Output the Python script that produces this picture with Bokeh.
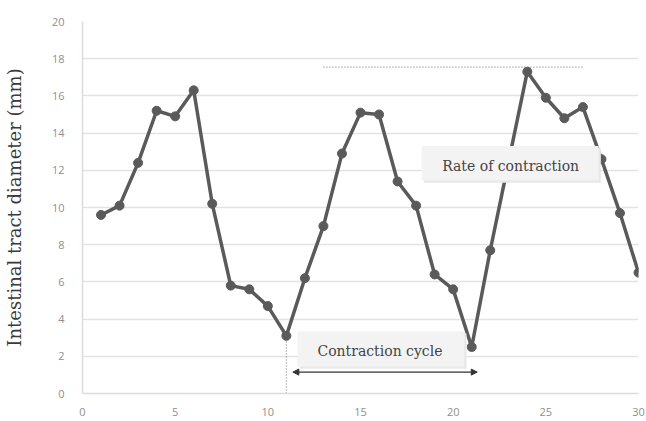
from bokeh.plotting import figure
from bokeh.models import (Label, BoxAnnotation, Arrow, NormalHead, FixedTicker,
                          ColumnDataSource)
from bokeh.embed import file_html
from bokeh.resources import INLINE

# ---- data ----
day = list(range(1, 31))
diameter = [9.6, 10.1, 12.4, 15.2, 14.9, 16.3, 10.2, 5.8, 5.6, 4.7,
            3.1, 6.2, 9.0, 12.9, 15.1, 15.0, 11.4, 10.1, 6.4, 5.6,
            2.5, 7.7, 12.5, 17.3, 15.9, 14.8, 15.4, 12.6, 9.7, 6.5]
x_ticks = [0, 5, 10, 15, 20, 25, 30]
y_ticks = [0, 2, 4, 6, 8, 10, 12, 14, 16, 18, 20]
y_label = "Intestinal tract diameter (mm)"
cycle_label = "Contraction cycle"
rate_label = "Rate of contraction"
cycle_start, cycle_end = 11, 21
peak_level = 17.55

LINE = "#5a5a5a"
SERIF = "DejaVu Serif"

p = figure(width=646, height=421, x_range=(0, 30), y_range=(0, 20),
           output_backend="svg", toolbar_location=None,
           min_border_left=82, min_border_right=8, min_border_top=21,
           min_border_bottom=28)
p.outline_line_color = None
p.background_fill_color = "white"

p.xgrid.grid_line_color = None
p.ygrid.grid_line_color = "#e3e3e3"
p.ygrid.grid_line_width = 1.5
p.xaxis.ticker = FixedTicker(ticks=x_ticks)
p.yaxis.ticker = FixedTicker(ticks=y_ticks)
for ax in (p.xaxis[0], p.yaxis[0]):
    ax.axis_line_color = "#dcdcdc"
    ax.axis_line_width = 1.5
    ax.major_tick_line_color = None
    ax.minor_tick_line_color = None
    ax.major_label_text_color = "#8f8f8f"
    ax.major_label_text_font = "Open Sans"
    ax.major_label_text_font_size = "11px"
p.xaxis.major_label_standoff = 8
p.yaxis.major_label_standoff = 12
p.yaxis.axis_label = y_label
p.yaxis.axis_label_text_font = SERIF
p.yaxis.axis_label_text_font_style = "normal"
p.yaxis.axis_label_text_font_size = "18px"
p.yaxis.axis_label_text_color = "#3a3a3a"
p.yaxis.axis_label_standoff = 24

# dotted guide lines
guides = ColumnDataSource(dict(x0=[cycle_start, 13], y0=[0, peak_level],
                               x1=[cycle_start, 27], y1=[diameter[cycle_start - 1], peak_level]))
p.segment(x0="x0", y0="y0", x1="x1", y1="y1", source=guides,
          line_color="#8a8a8a", line_width=1.2, line_dash="1 2")

# series
src = ColumnDataSource(dict(day=day, diameter=diameter))
p.line("day", "diameter", source=src, line_color=LINE, line_width=3.5)
p.scatter("day", "diameter", source=src, size=9, fill_color=LINE, line_color=LINE)

# annotation boxes
def label_box(left, right, bottom, top):
    shadow = BoxAnnotation(left=left + 0.12, right=right + 0.12, bottom=bottom - 0.12,
                           top=top - 0.12, fill_color="#e8e8e8", fill_alpha=1,
                           line_color=None, level="overlay")
    box = BoxAnnotation(left=left, right=right, bottom=bottom, top=top,
                        fill_color="#f3f3f3", fill_alpha=1, line_color=None,
                        level="overlay")
    p.add_layout(shadow)
    p.add_layout(box)

label_box(11.6, 20.6, 1.45, 3.35)
label_box(18.3, 27.85, 11.45, 13.3)

p.add_layout(Label(x=16.05, y=2.3, text=cycle_label, text_font=SERIF,
                   text_font_size="14px", text_color="#444444",
                   text_align="center", text_baseline="middle", level="overlay"))
p.add_layout(Label(x=23.1, y=12.25, text=rate_label, text_font=SERIF,
                   text_font_size="14px", text_color="#444444",
                   text_align="center", text_baseline="middle", level="overlay"))

# double-headed arrow for contraction cycle
p.add_layout(Arrow(x_start=cycle_start + 0.35, y_start=1.15, x_end=cycle_end + 0.3, y_end=1.15,
                   line_color="#333333", line_width=1.2,
                   start=NormalHead(size=6, fill_color="#333333", line_color="#333333"),
                   end=NormalHead(size=6, fill_color="#333333", line_color="#333333")))

open("out.html", "w").write(file_html(p, INLINE))
